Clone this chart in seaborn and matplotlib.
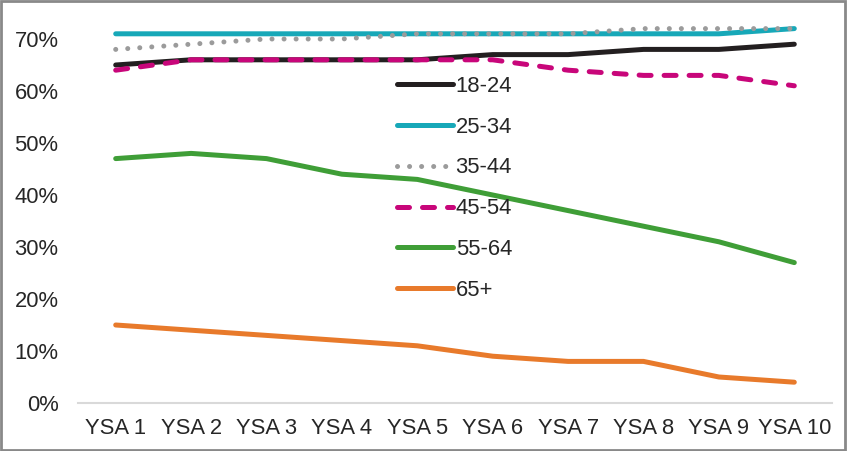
import matplotlib
matplotlib.use("Agg")
import matplotlib.pyplot as plt
import seaborn as sns
import pandas as pd
from matplotlib.ticker import PercentFormatter

categories = ["YSA 1", "YSA 2", "YSA 3", "YSA 4", "YSA 5", "YSA 6", "YSA 7", "YSA 8", "YSA 9", "YSA 10"]
age_18_24 = [0.65, 0.66, 0.66, 0.66, 0.66, 0.67, 0.67, 0.68, 0.68, 0.69]
age_25_34 = [0.71, 0.71, 0.71, 0.71, 0.71, 0.71, 0.71, 0.71, 0.71, 0.72]
age_35_44 = [0.68, 0.69, 0.70, 0.70, 0.71, 0.71, 0.71, 0.72, 0.72, 0.72]
age_45_54 = [0.64, 0.66, 0.66, 0.66, 0.66, 0.66, 0.64, 0.63, 0.63, 0.61]
age_55_64 = [0.47, 0.48, 0.47, 0.44, 0.43, 0.40, 0.37, 0.34, 0.31, 0.27]
age_65_plus = [0.15, 0.14, 0.13, 0.12, 0.11, 0.09, 0.08, 0.08, 0.05, 0.04]
series_names = ["18-24", "25-34", "35-44", "45-54", "55-64", "65+"]
series_values = [age_18_24, age_25_34, age_35_44, age_45_54, age_55_64, age_65_plus]

rows = []
for name, vals in zip(series_names, series_values):
    for i, (c, v) in enumerate(zip(categories, vals)):
        rows.append({"pos": i, "cat": c, "group": name, "value": v})
df = pd.DataFrame(rows)

palette = {"18-24": "#231f20", "25-34": "#17a8b8", "35-44": "#9b9b9b",
           "45-54": "#c8067a", "55-64": "#3f9e37", "65+": "#e87a2b"}
dashes = {"18-24": "", "25-34": "", "35-44": (0.01, 2.4),
          "45-54": (2.4, 2.6), "55-64": "", "65+": ""}

sns.set_style("white")
plt.rcParams["font.family"] = ["Liberation Sans", "DejaVu Sans"]

FS = 15.8
LW = 3.6

fig = plt.figure(figsize=(8.47, 4.51), dpi=100)
ax = fig.add_axes([78/847, 48/451, 754/847, 390/451])

sns.lineplot(data=df, x="pos", y="value", hue="group", style="group",
             palette=palette, dashes=dashes, hue_order=series_names,
             style_order=series_names, linewidth=LW, ax=ax, legend=True)

for line in ax.get_lines():
    line.set_dash_capstyle("round")
    line.set_solid_capstyle("round")
    line.set_solid_joinstyle("round")

handles, labels = ax.get_legend_handles_labels()
for h in handles:
    h.set_dash_capstyle("round")
    h.set_solid_capstyle("round")
    h.set_linewidth(LW)
ax.legend(handles, labels, loc="upper left", bbox_to_anchor=(386/847, 1 - 65/451),
          bbox_transform=fig.transFigure, frameon=False, fontsize=FS,
          handlelength=2.55, handletextpad=0.12, labelspacing=0.9, borderpad=0)

ax.set_xlim(-0.5, 9.5)
ax.set_ylim(0, 0.75)
ax.set_yticks([0, 0.1, 0.2, 0.3, 0.4, 0.5, 0.6, 0.7])
ax.yaxis.set_major_formatter(PercentFormatter(1.0, decimals=0))
ax.set_xticks(range(len(categories)))
ax.set_xticklabels(categories)
ax.tick_params(axis="both", length=0, labelsize=FS, colors="#262626")
ax.tick_params(axis="x", pad=11)
ax.tick_params(axis="y", pad=14)
ax.set_xlabel("")
ax.set_ylabel("")
for s in ["top", "right", "left"]:
    ax.spines[s].set_visible(False)
ax.spines["bottom"].set_color("#d9d9d9")
ax.spines["bottom"].set_linewidth(1.5)

fig.patches.append(plt.Rectangle((0.001, 0.002), 0.997, 0.995, transform=fig.transFigure,
                                 fill=False, edgecolor="#898989", linewidth=2))

fig.savefig("out.png", dpi=100)
